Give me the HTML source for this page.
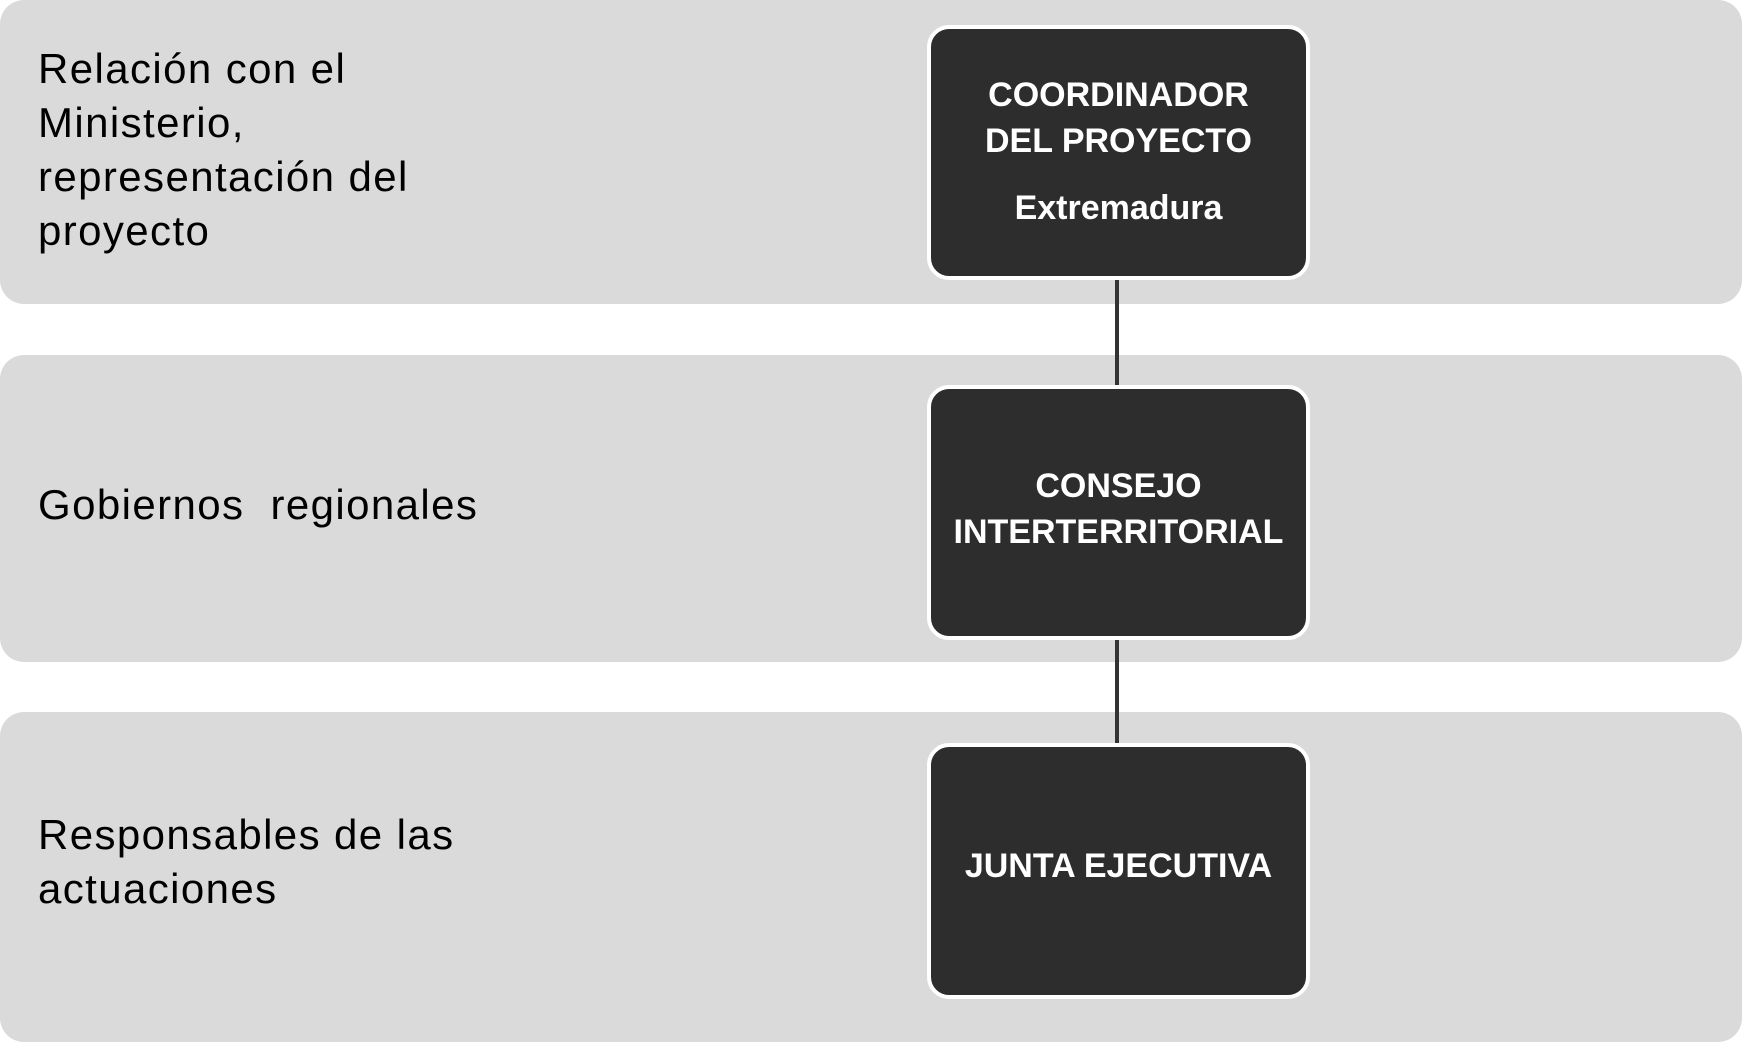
<!DOCTYPE html>
<html><head><meta charset="utf-8"><style>
body{margin:0;width:1742px;height:1017px;background:#fff;position:relative;overflow:hidden;font-family:"Liberation Sans",sans-serif}
.band{position:absolute;left:0;width:1742px;background:#dadada;border-radius:24px}
.lt{position:absolute;left:38px;font-size:42px;line-height:54px;color:#000;letter-spacing:1.4px}
.box{position:absolute;left:927px;width:375px;background:#2d2d2d;border:4px solid #fff;border-radius:22px;box-sizing:content-box}
.bt{position:absolute;left:0;width:100%;text-align:center;color:#fff;font-weight:bold;font-size:34px;line-height:46px}
.ln{position:absolute;left:1115px;width:4px;background:#333}
</style></head><body>
<div class="band" style="top:0;height:304px"></div>
<div class="band" style="top:355px;height:307px"></div>
<div class="band" style="top:712px;height:330px"></div>
<div class="lt" style="top:42px">Relación con el<br>Ministerio,<br>representación del<br>proyecto</div>
<div class="lt" style="top:478px">Gobiernos &nbsp;regionales</div>
<div class="lt" style="top:808px">Responsables de las<br>actuaciones</div>
<div class="ln" style="top:280px;height:106px"></div>
<div class="ln" style="top:638px;height:106px"></div>
<div class="box" style="top:25px;height:247px">
 <div class="bt" style="top:43px">COORDINADOR<br>DEL PROYECTO</div>
 <div class="bt" style="top:156px">Extremadura</div>
</div>
<div class="box" style="top:385px;height:247px">
 <div class="bt" style="top:74px">CONSEJO<br>INTERTERRITORIAL</div>
</div>
<div class="box" style="top:743px;height:248px">
 <div class="bt" style="top:96px">JUNTA EJECUTIVA</div>
</div>
</body></html>
